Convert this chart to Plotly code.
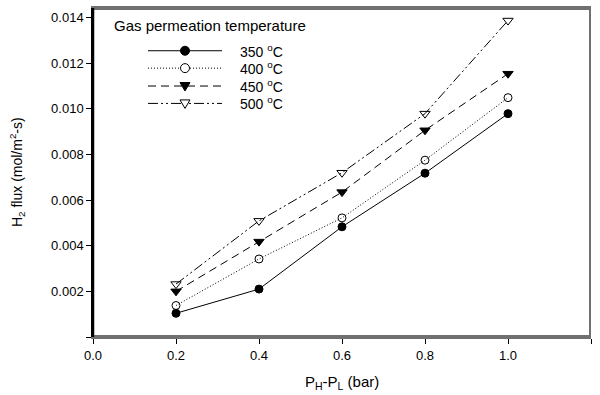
import plotly.graph_objects as go

x_dp = [0.2, 0.4, 0.6, 0.8, 1.0]
flux_350 = [0.00104, 0.00210, 0.00483, 0.00718, 0.00979]
flux_400 = [0.00138, 0.00342, 0.00522, 0.00775, 0.01049]
flux_450 = [0.00200, 0.00418, 0.00635, 0.00906, 0.01154]
flux_500 = [0.00232, 0.00509, 0.00720, 0.00979, 0.01387]
series_names = ["350 <sup>o</sup>C", "400 <sup>o</sup>C", "450 <sup>o</sup>C", "500 <sup>o</sup>C"]
legend_title = "Gas permeation temperature"
x_title = "P<sub>H</sub>-P<sub>L</sub> (bar)"
y_title = "H<sub>2</sub> flux (mol/m<sup>2</sup>-s)"

y_tickvals = [0, 0.002, 0.004, 0.006, 0.008, 0.010, 0.012, 0.014]
y_ticktext = ["", "0.002", "0.004", "0.006", "0.008", "0.010", "0.012", "0.014"]
x_tickvals = [0.0, 0.2, 0.4, 0.6, 0.8, 1.0, 1.2]
x_ticktext = ["0.0", "0.2", "0.4", "0.6", "0.8", "1.0", "1.2"]

styles = [
    dict(dash="solid", symbol="circle", size=8, open=False),
    dict(dash="1px,2px", symbol="circle-open", size=8, open=True),
    dict(dash="8px,5px", symbol="triangle-down", size=9, open=False),
    dict(dash="10px,3px,2px,3px,2px,3px", symbol="triangle-down-open", size=9, open=True),
]

W, H = 600, 395
ML, MR, MT, MB = 93, 9, 6, 58
PW, PH = W - ML - MR, H - MT - MB


def px_to_paper(px, py):
    return (px - ML) / PW, (H - MB - py) / PH


fig = go.Figure()
for name, ys, st in zip(series_names, [flux_350, flux_400, flux_450, flux_500], styles):
    fig.add_trace(go.Scatter(
        x=x_dp, y=ys, name=name, mode="lines+markers", showlegend=False,
        line=dict(color="black", width=1, dash=st["dash"]),
        marker=dict(symbol=st["symbol"], size=st["size"], color="black",
                    line=dict(color="black", width=1)),
    ))

font_family = "Liberation Sans, Arial, sans-serif"

shapes = []
annotations = []

# frame lines, slightly inset from the plot-area edge
ix = 1.0 / PW
iy = 1.0 / PH
shapes.append(dict(type="line", xref="paper", yref="paper", x0=0, x1=1, y0=1 - iy, y1=1 - iy,
                   line=dict(color="#707070", width=2), layer="above"))
shapes.append(dict(type="line", xref="paper", yref="paper", x0=1 - ix, x1=1 - ix, y0=0, y1=1,
                   line=dict(color="#707070", width=2), layer="above"))
shapes.append(dict(type="line", xref="paper", yref="paper", x0=0, x1=1, y0=iy, y1=iy,
                   line=dict(color="#707070", width=2), layer="above"))
shapes.append(dict(type="line", xref="paper", yref="paper", x0=ix * 0.5, x1=ix * 0.5, y0=0, y1=1,
                   line=dict(color="black", width=1.5), layer="above"))

# axis titles as annotations
ax_x, ax_y = px_to_paper(342, 383)
annotations.append(dict(text=x_title, x=ax_x, y=ax_y, xref="paper", yref="paper",
                        xanchor="center", yanchor="middle", showarrow=False,
                        font=dict(size=15, family=font_family)))
ay_x, ay_y = px_to_paper(17, 171)
annotations.append(dict(text=y_title, x=ay_x, y=ay_y, xref="paper", yref="paper",
                        xanchor="center", yanchor="middle", showarrow=False, textangle=-90,
                        font=dict(size=14, family=font_family)))

# custom legend (layout positions in pixels, not data)
tx, ty = px_to_paper(112, 24)
annotations.append(dict(text=legend_title, x=tx, y=ty, xref="paper", yref="paper",
                        xanchor="left", yanchor="middle", showarrow=False,
                        font=dict(size=15, family=font_family)))
row_y = [49, 66.5, 84.5, 102]
for name, st, ry in zip(series_names, styles, row_y):
    x0, yy = px_to_paper(148, ry)
    x1, _ = px_to_paper(222, ry)
    xm, _ = px_to_paper(185, ry)
    shapes.append(dict(type="line", xref="paper", yref="paper", x0=x0, x1=x1, y0=yy, y1=yy,
                       line=dict(color="black", width=1, dash=st["dash"])))
    fillc = "white" if st["open"] else "black"
    if "circle" in st["symbol"]:
        shapes.append(dict(type="circle", xref="paper", yref="paper",
                           xsizemode="pixel", ysizemode="pixel", xanchor=xm, yanchor=yy,
                           x0=-4.5, x1=4.5, y0=-4.5, y1=4.5,
                           fillcolor=fillc, line=dict(color="black", width=1)))
    else:
        shapes.append(dict(type="path", xref="paper", yref="paper",
                           xsizemode="pixel", ysizemode="pixel", xanchor=xm, yanchor=yy,
                           path="M -5 3.5 L 5 3.5 L 0 -5 Z",
                           fillcolor=fillc, line=dict(color="black", width=1)))
    lx, _ = px_to_paper(238, ry)
    annotations.append(dict(text=name, x=lx, y=yy, xref="paper", yref="paper",
                            xanchor="left", yanchor="middle", showarrow=False,
                            font=dict(size=14, family=font_family)))

fig.update_layout(
    width=W, height=H,
    margin=dict(l=ML, r=MR, t=MT, b=MB),
    plot_bgcolor="white", paper_bgcolor="white",
    font=dict(family=font_family, size=13, color="black"),
    showlegend=False,
    xaxis=dict(
        range=[0, 1.2], tickvals=x_tickvals, ticktext=x_ticktext,
        ticks="outside", ticklen=5, tickcolor="black",
        showline=True, linecolor="#707070", linewidth=2, mirror=True,
        showgrid=False, zeroline=False,
        tickfont=dict(size=13),
    ),
    yaxis=dict(
        range=[0, 0.01442], tickvals=y_tickvals, ticktext=y_ticktext,
        ticks="outside", ticklen=5, tickcolor="black",
        showline=True, linecolor="black", linewidth=1.5, mirror=False,
        showgrid=False, zeroline=False,
        tickfont=dict(size=13),
    ),
    shapes=shapes,
    annotations=annotations,
)

fig.write_html("out.html")
